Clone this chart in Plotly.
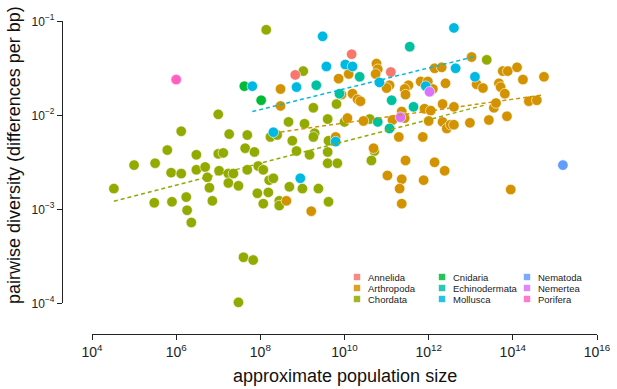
import numpy as np
import plotly.graph_objects as go

# ---------------- data (log10 values) ----------------
phyla = ["Annelida", "Arthropoda", "Chordata", "Cnidaria", "Echinodermata",
         "Mollusca", "Nematoda", "Nemertea", "Porifera"]
colors = ["#F8766D", "#D39200", "#93AA00", "#00BA38", "#00C19F",
          "#00B9E3", "#619CFF", "#DB72FB", "#FF61C3"]

annelida_log_pop = [8.83, 10.17, 11.10]
annelida_log_pi = [-1.57, -1.35, -1.54]

arthropoda_log_pop = [8.48, 8.48, 8.62, 9.21, 10.76, 10.79, 10.74, 10.10, 9.86, 11.07,
                      11.00, 12.14, 12.31, 11.81, 11.98, 11.52, 11.43, 11.45, 12.10, 12.40,
                      9.93, 10.19, 10.31, 10.38, 11.90, 12.05, 12.33, 12.60, 10.07, 10.45,
                      11.36, 11.43, 11.14, 12.00, 12.33, 12.43, 12.52, 12.60, 11.29, 11.86,
                      9.79, 10.69, 11.45, 12.14, 13.02, 13.14, 13.29, 13.76, 13.88, 14.10,
                      14.24, 14.74, 13.67, 13.71, 13.81, 13.55, 13.60, 13.86, 14.38, 14.57,
                      12.98, 13.43, 12.38, 11.02, 11.36, 11.88, 11.31, 11.36, 13.95]
arthropoda_log_pi = [-1.72, -1.90, -2.91, -3.02, -1.45, -1.51, -1.56, -1.56, -1.61, -1.68,
                     -1.71, -1.50, -1.49, -1.64, -1.64, -1.68, -1.72, -1.78, -1.72, -1.66,
                     -1.78, -1.77, -1.83, -1.85, -1.93, -1.95, -1.88, -1.91, -2.03, -2.06,
                     -1.96, -2.03, -2.05, -2.06, -2.07, -2.14, -2.10, -2.10, -2.23, -2.23,
                     -2.23, -2.35, -2.48, -2.50, -1.38, -1.67, -1.71, -1.53, -1.53, -1.49,
                     -1.62, -1.59, -1.66, -1.70, -1.77, -1.92, -1.87, -2.01, -1.85, -1.84,
                     -2.08, -2.05, -2.59, -2.64, -2.68, -2.69, -2.78, -2.94, -2.79]

chordata_log_pop = [8.14, 9.02, 9.26, 7.00, 6.12, 8.67, 9.05, 9.60, 8.24, 8.40,
                    9.29, 9.26, 7.26, 7.69, 8.76, 9.62, 5.79, 7.64, 7.86, 8.86,
                    9.17, 6.48, 7.00, 7.12, 9.60, 5.00, 5.50, 7.95, 8.07, 5.88,
                    6.12, 6.48, 6.69, 6.74, 7.02, 7.24, 7.36, 7.69, 8.21, 8.31,
                    9.60, 4.52, 6.79, 7.24, 7.48, 7.93, 8.19, 8.69, 9.00, 9.38,
                    5.48, 5.90, 6.24, 6.26, 6.36, 6.86, 8.07, 8.45, 8.45, 9.62,
                    7.60, 7.83, 7.48, 9.81, 10.00, 10.60, 10.71, 10.64, 9.83, 13.38]
chordata_log_pi = [-1.09, -1.53, -1.92, -1.99, -2.17, -2.07, -2.09, -2.04, -2.23, -2.21,
                   -2.19, -2.23, -2.20, -2.21, -2.27, -2.27, -2.37, -2.35, -2.39, -2.38,
                   -2.42, -2.42, -2.41, -2.40, -2.39, -2.53, -2.51, -2.54, -2.58, -2.61,
                   -2.62, -2.58, -2.55, -2.66, -2.59, -2.62, -2.62, -2.58, -2.69, -2.67,
                   -2.51, -2.78, -2.77, -2.72, -2.75, -2.83, -2.82, -2.76, -2.78, -2.78,
                   -2.93, -2.92, -2.87, -3.01, -3.14, -2.91, -2.94, -2.91, -2.96, -2.92,
                   -3.51, -3.54, -3.99, -1.88, -2.07, -2.04, -2.38, -2.48, -2.51, -1.41]

cnidaria_log_pop = [7.62, 8.02]
cnidaria_log_pi = [-1.69, -1.84]

echinodermata_log_pop = [9.33, 11.55, 10.36, 9.88, 11.12, 11.64, 10.79, 11.07]
echinodermata_log_pi = [-1.68, -1.27, -1.59, -1.77, -1.84, -1.91, -2.07, -2.14]

mollusca_log_pop = [7.81, 8.86, 9.48, 9.57, 10.02, 10.19, 10.83, 12.60, 12.64, 11.93,
                    13.10, 8.31, 8.95, 9.79]
mollusca_log_pi = [-1.69, -1.70, -1.16, -1.48, -1.46, -1.48, -1.65, -1.07, -1.50, -1.69,
                   -1.59, -2.18, -2.67, -2.28]

nematoda_log_pop = [15.19]
nematoda_log_pi = [-2.53]

nemertea_log_pop = [12.02, 11.33]
nemertea_log_pi = [-1.75, -2.02]

porifera_log_pop = [6.00]
porifera_log_pi = [-1.62]

log_pop = {"Annelida": annelida_log_pop, "Arthropoda": arthropoda_log_pop,
           "Chordata": chordata_log_pop, "Cnidaria": cnidaria_log_pop,
           "Echinodermata": echinodermata_log_pop, "Mollusca": mollusca_log_pop,
           "Nematoda": nematoda_log_pop, "Nemertea": nemertea_log_pop,
           "Porifera": porifera_log_pop}
log_pi = {"Annelida": annelida_log_pi, "Arthropoda": arthropoda_log_pi,
          "Chordata": chordata_log_pi, "Cnidaria": cnidaria_log_pi,
          "Echinodermata": echinodermata_log_pi, "Mollusca": mollusca_log_pi,
          "Nematoda": nematoda_log_pi, "Nemertea": nemertea_log_pi,
          "Porifera": porifera_log_pi}

fitted_phyla = ["Chordata", "Arthropoda", "Mollusca"]

x_tick_exps = [4, 6, 8, 10, 12, 14, 16]
y_tick_exps = [-4, -3, -2, -1]

color_of = dict(zip(phyla, colors))
FONT = "Liberation Sans, Arial, Helvetica, sans-serif"

fig = go.Figure()

draw_order = ["Chordata", "Arthropoda", "Annelida", "Cnidaria", "Echinodermata",
              "Mollusca", "Nematoda", "Nemertea", "Porifera"]
for p in draw_order:
    fig.add_trace(go.Scatter(
        x=10 ** np.array(log_pop[p]), y=10 ** np.array(log_pi[p]),
        mode="markers", name=p, showlegend=False, cliponaxis=False,
        marker=dict(size=10.5, color=color_of[p], line=dict(color="white", width=0.6)),
    ))

# regression lines (log-log least squares, over each group's range)
for p in fitted_phyla:
    lx = np.array(log_pop[p]); ly = np.array(log_pi[p])
    slope, icpt = np.polyfit(lx, ly, 1)
    xs = np.linspace(lx.min(), lx.max(), 2)
    fig.add_trace(go.Scatter(
        x=10 ** xs, y=10 ** (icpt + slope * xs), mode="lines", showlegend=False,
        line=dict(color=color_of[p], width=1.5, dash="4px,3px"), hoverinfo="skip",
    ))

# ---------------- layout ----------------
W, H = 617, 389
ML, MR, MT, MB = 62, 12, 12, 55
pw, ph = W - ML - MR, H - MT - MB

def px_x(px):
    return (px - ML) / pw

def px_y(py):
    return (H - MB - py) / ph

# base-R style: axes detached from the data region, lines spanning tick range
X_DOMAIN = [px_x(92), px_x(597)]
Y_DOMAIN = [px_y(303.3), px_y(21.3)]

shapes = []
annotations = []

# custom legend, 3 columns filled column-wise
for i, (p, c) in enumerate(zip(phyla, colors)):
    col, row = i // 3, i % 3
    sx = 357 + 85 * col
    sy = 277 + 11 * row
    shapes.append(dict(type="rect", xref="paper", yref="paper",
                       xsizemode="pixel", ysizemode="pixel",
                       xanchor=px_x(sx), yanchor=px_y(sy),
                       x0=-3.2, x1=3.2, y0=-3.2, y1=3.2,
                       line=dict(width=0), fillcolor=c, opacity=0.85))
    annotations.append(dict(xref="paper", yref="paper", x=px_x(sx + 9), y=px_y(sy),
                            xanchor="left", yanchor="middle", text=p, showarrow=False,
                            font=dict(family=FONT, size=9.5, color="#222222")))

annotations.append(dict(xref="paper", yref="paper", x=sum(X_DOMAIN) / 2, y=px_y(376),
                        xanchor="center", yanchor="middle",
                        text="approximate population size", showarrow=False,
                        font=dict(family=FONT, size=18, color="#111111")))
annotations.append(dict(xref="paper", yref="paper", x=px_x(14), y=px_y(155),
                        xanchor="center", yanchor="middle", textangle=-90,
                        text="pairwise diversity (differences per bp)", showarrow=False,
                        font=dict(family=FONT, size=18, color="#111111")))

fig.update_layout(
    width=W, height=H, autosize=False,
    margin=dict(l=ML, r=MR, t=MT, b=MB, autoexpand=False),
    paper_bgcolor="white", plot_bgcolor="white",
    font=dict(family=FONT, color="#222222"),
    shapes=shapes, annotations=annotations,
    xaxis=dict(type="log", range=[min(x_tick_exps), max(x_tick_exps)], domain=X_DOMAIN,
               anchor="free", position=0, automargin=False,
               showgrid=False, zeroline=False,
               showline=True, linecolor="#222222", linewidth=1.2,
               ticks="outside", ticklen=5, tickwidth=1.2, tickcolor="#222222",
               tickvals=[10.0 ** e for e in x_tick_exps],
               ticktext=[f"10<sup>{e}</sup>" for e in x_tick_exps],
               tickfont=dict(family=FONT, size=14, color="#222222")),
    yaxis=dict(type="log", range=[min(y_tick_exps), max(y_tick_exps)], domain=Y_DOMAIN,
               anchor="free", position=0, automargin=False,
               showgrid=False, zeroline=False,
               showline=True, linecolor="#222222", linewidth=1.2,
               ticks="outside", ticklen=5, tickwidth=1.2, tickcolor="#222222",
               tickvals=[10.0 ** e for e in y_tick_exps],
               ticktext=[f"10<sup>\u2212{-e}</sup>" for e in y_tick_exps],
               tickfont=dict(family=FONT, size=12, color="#222222")),
    showlegend=False,
)

fig.write_html("out.html",
               config={"displayModeBar": False},
               post_script="document.body.style.margin='0px';"
                           "document.body.style.overflow='hidden';")
